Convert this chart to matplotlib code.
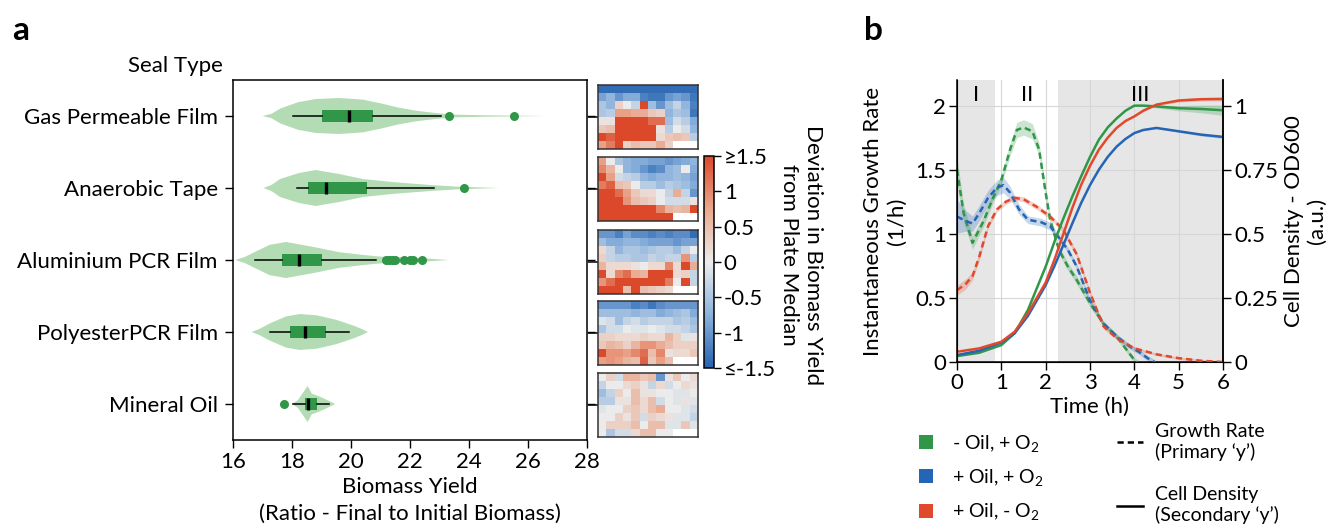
import numpy as np
import matplotlib
matplotlib.use('Agg')
import matplotlib.pyplot as plt
from matplotlib.colors import LinearSegmentedColormap
from matplotlib.patches import Patch
from matplotlib.lines import Line2D

plt.rcParams['font.family'] = ['Lato', 'DejaVu Sans']
plt.rcParams['mathtext.fontset'] = 'custom'
plt.rcParams['mathtext.rm'] = 'Lato'
plt.rcParams['font.size'] = 16

# ---------------- panel a data ----------------
seal_types = ['Gas Permeable Film', 'Anaerobic Tape', 'Aluminium PCR Film',
              'PolyesterPCR Film', 'Mineral Oil']

q1 = [19.03, 18.55, 17.67, 17.93, 18.44]
med = [19.94, 19.15, 18.24, 18.44, 18.53]
q3 = [20.74, 20.53, 19.00, 19.15, 18.84]
whislo = [18.04, 18.16, 16.75, 17.25, 18.04]
whishi = [23.04, 22.82, 20.84, 19.93, 19.25]
fliers = [[23.33, 25.54],
          [23.84],
          [21.2, 21.3, 21.4, 21.5, 21.8, 22.0, 22.1, 22.4],
          [],
          [17.74]]

# violin outlines (yield, relative density)
vio_x = [[17.0, 17.3, 17.6, 18.2, 18.8, 19.6, 20.4, 21.0, 21.6, 22.2, 22.9, 23.5, 24.5, 25.5, 26.6],
         [17.03, 17.3, 17.6, 18.2, 18.8, 19.6, 20.4, 21.5, 22.7, 23.5, 24.2, 25.0],
         [16.07, 16.4, 16.75, 17.25, 17.8, 18.7, 19.6, 20.4, 21.0, 22.1, 22.7, 23.3],
         [16.63, 16.9, 17.25, 17.8, 18.27, 18.85, 19.5, 20.1, 20.4, 20.57],
         [18.0, 18.2, 18.4, 18.53, 18.67, 18.95, 19.2, 19.46]]
vio_d = [[0, 2, 7, 13, 16, 17, 15.5, 12, 8, 5, 2.7, 1.3, 0.7, 0.4, 0],
         [0, 3, 9, 14.7, 18, 14, 9, 5.7, 3, 1.5, 0.8, 0],
         [0, 3, 8, 15, 17.7, 13, 7.7, 5, 3.3, 2.3, 1.2, 0],
         [0, 3, 8.3, 15, 17.3, 16, 11.7, 6, 2.5, 0],
         [0, 3.7, 12, 17.3, 10, 7, 3.7, 0]]

# plate maps: deviation from plate median (8 rows x 12 columns)
nan = np.nan
plate_gas = [
    [-1.4, -1.4, -1.4, -1.4, -1.4, -1.4, -1.4, -1.4, -1.4, -1.4, -1.4, -1.4],
    [-0.9, -0.7, -1.0, -0.8, -0.8, -1.2, -1.3, -1.3, -1.0, -0.9, -1.0, -1.3],
    [-0.5, -0.7, 0.3, 0.0, -0.3, 1.5, -0.6, -1.0, -0.6, -0.3, -0.7, -1.2],
    [-0.5, -0.4, 0.8, 0.8, 0.7, 0.7, 0.4, 0.3, -0.7, -0.5, -0.6, -1.3],
    [0.1, 0.1, 1.5, 1.5, 1.5, 1.5, 1.2, 1.2, -0.6, -0.2, -0.4, -0.8],
    [0.4, 0.5, 1.5, 1.5, 1.5, 1.5, 1.5, 0.1, -0.4, 0.0, -0.2, -0.7],
    [1.5, 1.3, 1.5, 1.5, 1.5, 1.5, 1.5, 0.2, 0.4, 0.5, 0.4, -0.4],
    [0.8, 1.1, 1.5, 0.3, 0.5, 0.4, 0.4, 0.7, 0.3, nan, nan, nan]]
plate_tape = [
    [0.8, 0.0, -0.5, -0.7, -0.8, -0.8, -0.9, -0.9, -1.0, -0.9, -0.8, -0.7],
    [1.0, 0.6, 0.0, -0.7, -0.8, -1.0, -1.2, -1.1, -0.7, -0.6, 0.0, -0.8],
    [1.5, 0.8, -0.2, -0.3, -0.4, -0.7, -0.8, -0.7, -0.7, -0.6, -0.7, -0.9],
    [1.1, 1.3, 0.5, 0.4, 0.0, -0.4, -0.4, -0.6, -0.4, -0.5, -0.6, -0.8],
    [1.5, 1.5, 1.2, 0.8, 0.4, 0.2, 0.2, 0.0, -0.3, 0.7, -0.3, -1.0],
    [1.5, 1.5, 1.5, 0.9, 0.5, 0.4, 0.3, 0.0, -0.2, -0.2, -0.2, 0.1],
    [1.5, 1.5, 1.5, 1.5, 1.5, 1.5, 1.5, 1.0, 0.6, 0.5, 0.6, 1.5],
    [1.5, 1.5, 1.5, 1.5, 1.5, 1.5, 1.5, 1.5, 1.5, nan, nan, nan]]
plate_alu = [
    [-1.0, -1.0, -1.2, -0.9, -1.1, -1.1, -1.2, -1.1, -1.2, -1.1, -1.1, -1.4],
    [-0.6, -0.8, -0.8, -0.7, -0.7, -0.8, -0.9, -0.9, -0.9, -1.0, -0.9, -0.9],
    [0.2, -0.3, -0.7, -0.5, -0.5, -0.6, -0.5, -0.4, -0.4, -0.6, -0.3, 0.0],
    [0.3, -0.3, -0.4, -0.4, -0.5, -0.5, -0.3, -0.4, -0.3, -0.3, 0.9, -0.4],
    [0.6, 0.2, 0.2, 0.2, 0.1, 0.0, 0.2, 0.2, 1.0, 0.2, 1.5, 0.7],
    [1.5, 0.2, 1.0, 1.2, 0.7, 0.6, 1.5, 1.5, 1.5, 0.2, 0.3, -0.3],
    [0.9, 1.2, 1.5, 1.5, 1.5, 1.5, 1.5, 1.5, 1.1, 0.0, 1.5, -0.3],
    [1.5, 1.5, 1.5, 0.5, 1.5, 0.5, 0.4, 0.3, 0.2, nan, nan, nan]]
plate_poly = [
    [-1.0, -1.0, -1.0, -1.0, -1.2, -1.1, -1.3, -1.1, -1.0, -1.0, -1.0, -1.0],
    [-0.6, -0.6, -0.6, -0.6, -0.7, -0.6, -0.6, -0.8, -0.7, -0.6, -0.5, -0.8],
    [-0.1, -0.2, -0.6, -0.3, -0.2, -0.4, -0.3, -0.3, -0.3, -0.5, -0.4, -0.6],
    [-0.5, -0.2, -0.2, 0.0, -0.1, -0.1, 0.0, -0.1, -0.2, -0.2, -0.3, -0.5],
    [0.3, 0.3, 0.2, 0.2, 0.2, 0.3, 0.2, 0.2, 0.6, 0.3, -0.1, 0.1],
    [0.4, 0.6, 0.5, 0.3, 0.6, 0.9, 0.9, 0.7, 0.5, 0.3, 0.3, 0.3],
    [1.5, 0.9, 0.9, 0.8, 1.0, 1.2, 0.5, 1.0, 0.1, 0.2, 0.2, 0.4],
    [0.8, 0.9, 0.8, 0.6, 0.5, 1.3, 0.4, 0.8, 0.5, nan, nan, nan]]
plate_oil = [
    [0.0, 0.3, -0.2, 0.6, 0.6, 0.4, 0.5, -1.0, 0.1, 0.4, 0.0, 0.2],
    [-0.3, 0.0, 0.0, 0.2, 0.3, 0.1, -0.3, 0.2, -0.2, 0.0, 0.2, 0.1],
    [-0.6, -0.3, 0.3, 0.0, 0.5, 0.1, 0.1, 0.0, 0.0, -0.1, -0.1, 0.0],
    [-0.4, -0.4, 0.1, 0.1, 0.5, 0.2, 0.5, -0.2, 0.0, -0.1, 0.1, -0.1],
    [-0.1, 0.0, 0.0, 0.3, 0.4, 0.2, 0.5, 0.7, 0.0, 0.0, -0.1, -0.2],
    [0.0, 0.0, 0.3, 0.1, 0.4, -0.2, 0.3, 0.2, 0.1, -0.1, -0.1, -0.3],
    [0.0, 0.3, 0.3, 0.3, 0.5, 0.0, 0.5, 0.5, -0.1, -0.1, 0.4, -0.1],
    [0.0, -0.5, -0.2, -0.2, 0.2, 0.5, 0.5, 0.0, 0.0, nan, nan, nan]]
plates = [plate_gas, plate_tape, plate_alu, plate_poly, plate_oil]

# ---------------- panel b data ----------------
conditions = ['- Oil, + O$\\mathregular{_2}$', '+ Oil, + O$\\mathregular{_2}$', '+ Oil, - O$\\mathregular{_2}$']
cond_colors = ['#2f9747', '#2565b5', '#e04a2c']

t_gr_green = [0, 0.15, 0.35, 0.6, 0.8, 1.0, 1.2, 1.35, 1.5, 1.7, 1.85, 2.0, 2.1, 2.3, 2.5, 2.7, 3.0, 3.3, 3.6, 3.8, 4.0, 4.2, 4.5]
gr_green = [1.5, 1.16, 0.93, 1.1, 1.27, 1.42, 1.66, 1.81, 1.83, 1.80, 1.66, 1.32, 1.11, 0.875, 0.745, 0.64, 0.46, 0.30, 0.20, 0.107, 0.016, -0.04, -0.1]
gr_green_err = [0.1, 0.07, 0.05, 0.04, 0.04, 0.04, 0.05, 0.06, 0.06, 0.06, 0.05, 0.04, 0.04, 0.03, 0.03, 0.03, 0.03, 0.02, 0.02, 0.02, 0.02, 0.02, 0.02]

t_gr_blue = [0, 0.2, 0.35, 0.5, 0.7, 0.9, 1.05, 1.2, 1.4, 1.6, 1.9, 2.1, 2.3, 2.5, 2.7, 3.0, 3.3, 3.6, 3.9, 4.1, 4.3, 4.45, 4.7]
gr_blue = [1.135, 1.10, 1.08, 1.16, 1.28, 1.36, 1.38, 1.32, 1.19, 1.11, 1.09, 1.06, 0.97, 0.875, 0.745, 0.48, 0.30, 0.20, 0.12, 0.08, 0.03, 0.0, -0.05]
gr_blue_err = [0.13, 0.08, 0.06, 0.06, 0.06, 0.06, 0.06, 0.05, 0.04, 0.03, 0.03, 0.03, 0.02, 0.02, 0.02, 0.02, 0.02, 0.02, 0.02, 0.02, 0.02, 0.02, 0.02]

t_gr_red = [0, 0.2, 0.35, 0.5, 0.7, 0.9, 1.1, 1.3, 1.5, 1.8, 2.1, 2.4, 2.7, 3.0, 3.3, 3.6, 4.0, 4.5, 5.0, 5.5, 6.0]
gr_red = [0.56, 0.61, 0.67, 0.82, 1.06, 1.19, 1.25, 1.28, 1.27, 1.21, 1.135, 1.03, 0.84, 0.54, 0.28, 0.185, 0.107, 0.06, 0.03, 0.01, 0.0]
gr_red_err = [0.04, 0.04, 0.03, 0.03, 0.02, 0.02, 0.02, 0.02, 0.02, 0.02, 0.02, 0.02, 0.02, 0.02, 0.02, 0.01, 0.01, 0.01, 0.01, 0.01, 0.01]

t_od = [0, 0.5, 1.0, 1.3, 1.6, 2.0, 2.2, 2.4, 2.6, 2.8, 3.0, 3.2, 3.4, 3.6, 3.8, 4.0, 4.2, 4.5, 5.0, 5.5, 6.0]
od_green = [0.023, 0.036, 0.066, 0.112, 0.203, 0.372, 0.47, 0.56, 0.645, 0.724, 0.80, 0.867, 0.915, 0.95, 0.98, 1.0, 1.0, 0.997, 0.99, 0.987, 0.982]
od_blue = [0.027, 0.044, 0.076, 0.112, 0.18, 0.30, 0.375, 0.457, 0.54, 0.62, 0.69, 0.75, 0.80, 0.84, 0.87, 0.893, 0.905, 0.913, 0.90, 0.887, 0.878]
od_red = [0.040, 0.053, 0.079, 0.118, 0.19, 0.31, 0.40, 0.50, 0.60, 0.691, 0.765, 0.828, 0.875, 0.913, 0.94, 0.958, 0.98, 1.004, 1.02, 1.025, 1.026]
od_green_err = [0, 0, 0, 0, 0, 0, 0, 0, 0, 0, 0, 0, 0, 0, 0, 0.002, 0.004, 0.006, 0.01, 0.015, 0.02]
od_blue_err = [0, 0, 0, 0, 0, 0, 0, 0, 0, 0, 0, 0, 0, 0, 0, 0.002, 0.002, 0.003, 0.004, 0.005, 0.006]
od_red_err = [0, 0, 0, 0, 0, 0, 0, 0, 0, 0, 0, 0, 0, 0, 0, 0.002, 0.003, 0.004, 0.006, 0.007, 0.008]

phases = ['I', 'II', 'III']
phase_pos = [0.44, 1.59, 4.13]
shaded = [(0, 0.86), (2.28, 6)]

W, H = 1327, 524
fig = plt.figure(figsize=(W / 100, H / 100), dpi=100)

# ---------------- panel a : violins ----------------
axv = fig.add_axes([233 / W, 1 - 440 / H, 354 / W, 360 / H])
green_light = '#b4dcb4'
green_dark = '#2f9747'
pos = list(range(len(seal_types)))

vpstats = []
for xs, ds in zip(vio_x, vio_d):
    vpstats.append({'coords': np.array(xs), 'vals': np.array(ds, float),
                    'mean': np.mean(xs), 'median': np.median(xs),
                    'min': min(xs), 'max': max(xs)})
parts = axv.violin(vpstats, positions=pos, orientation='horizontal', widths=0.5,
                   showmeans=False, showextrema=False, showmedians=False)
for b in parts['bodies']:
    b.set_facecolor(green_light)
    b.set_edgecolor('none')
    b.set_alpha(1)

bstats = []
for i in range(len(seal_types)):
    bstats.append({'med': med[i], 'q1': q1[i], 'q3': q3[i], 'whislo': whislo[i],
                   'whishi': whishi[i], 'fliers': fliers[i]})
axv.bxp(bstats, positions=pos, orientation='horizontal', widths=0.18, patch_artist=True,
        showcaps=False, showfliers=True,
        boxprops=dict(facecolor=green_dark, edgecolor='none'),
        medianprops=dict(color='black', linewidth=2.4),
        whiskerprops=dict(color='black', linewidth=1.1),
        flierprops=dict(marker='o', markerfacecolor=green_dark, markeredgecolor='none', markersize=6.5))

axv.set_xlim(16, 28)
axv.set_ylim(4.5, -0.5)
axv.set_xticks([16, 18, 20, 22, 24, 26, 28])
axv.set_yticks(pos)
axv.set_yticklabels(seal_types)
axv.tick_params(axis='y', right=True, length=6, width=1, pad=5)
axv.tick_params(axis='x', length=6, width=1, pad=3)
for s in axv.spines.values():
    s.set_linewidth(1.1)
axv.set_xlabel('Biomass Yield\n(Ratio - Final to Initial Biomass)', linespacing=1.45, labelpad=3)

fig.text(175 / W, 1 - 66 / H, 'Seal Type', ha='center', va='center')
fig.text(12 / W, 1 - 30 / H, 'a', ha='left', va='center', fontsize=24, fontweight='bold')
fig.text(864 / W, 1 - 30 / H, 'b', ha='left', va='center', fontsize=24, fontweight='bold')

# ---------------- plate maps ----------------
cmap = LinearSegmentedColormap.from_list('dev', ['#2462b0', '#8cb2dc', '#ececec', '#eaa88e', '#dc482a'])
cmap.set_bad('white')
centers = [117, 189, 262, 333, 405]
for plate, c in zip(plates, centers):
    axh = fig.add_axes([598 / W, 1 - (c + 32) / H, 100 / W, 64 / H])
    im = axh.imshow(np.clip(np.array(plate, float), -1.5, 1.5), cmap=cmap, vmin=-1.5, vmax=1.5,
                    aspect='auto', interpolation='nearest')
    axh.set_xticks([])
    axh.set_yticks([3.5])
    axh.set_yticklabels([''])
    axh.tick_params(axis='y', length=7, width=1.1)
    for s in axh.spines.values():
        s.set_linewidth(1.1)
        s.set_color('#333333')

cax = fig.add_axes([704 / W, 1 - 368 / H, 10 / W, 212 / H])
cb = fig.colorbar(im, cax=cax, ticks=[-1.5, -1, -0.5, 0, 0.5, 1, 1.5])
cb.ax.set_yticklabels(['\u2264-1.5', '-1', '-0.5', '0', '0.5', '1', '\u22651.5'])
cb.ax.tick_params(length=5, width=1, labelsize=16, pad=2)
cb.outline.set_linewidth(1.1)
fig.text(801 / W, 1 - 255 / H, 'Deviation in Biomass Yield\nfrom Plate Median', rotation=270,
         ha='center', va='center', multialignment='center', linespacing=1.2)

# ---------------- panel b ----------------
ax = fig.add_axes([957 / W, 1 - 362 / H, 266 / W, 282 / H])
for a0, a1 in shaded:
    ax.axvspan(a0, a1, color='#e6e6e6', zorder=0.1, lw=0)
ax.grid(True, color='#d6d6d6', linewidth=0.8, zorder=0.5)
ax.set_axisbelow(True)

gr_sets = [(t_gr_green, gr_green, gr_green_err), (t_gr_blue, gr_blue, gr_blue_err),
           (t_gr_red, gr_red, gr_red_err)]
for (tt, yy, ee), col in zip(gr_sets, cond_colors):
    tt = np.array(tt); yy = np.array(yy); ee = np.array(ee)
    ax.fill_between(tt, yy - ee, yy + ee, color=col, alpha=0.25, lw=0, zorder=2)
    ax.plot(tt, yy, color=col, lw=1.8, ls=(0, (2.5, 1.6)), zorder=3)

for i, ph in enumerate(phases):
    ax.text(phase_pos[i], 2.08, ph, ha='center', va='center')

ax.set_xlim(0, 6)
ax.set_ylim(0, 2.2)
ax.set_xticks(range(7))
ax.set_yticks([0, 0.5, 1, 1.5, 2])
ax.set_yticklabels(['0', '0.5', '1', '1.5', '2'])
ax.spines['top'].set_visible(False)
for s in ['left', 'bottom', 'right']:
    ax.spines[s].set_linewidth(1.1)
ax.tick_params(length=6, width=1, pad=2)
ax.set_xlabel('Time (h)', labelpad=3)
ax.set_ylabel('Instantaneous Growth Rate\n(1/h)', linespacing=1.2, labelpad=6)

ax2 = ax.twinx()
od_sets = [(od_green, od_green_err), (od_blue, od_blue_err), (od_red, od_red_err)]
for (yy, ee), col in zip(od_sets, cond_colors):
    yy = np.array(yy); ee = np.array(ee)
    ax2.fill_between(t_od, yy - ee, yy + ee, color=col, alpha=0.25, lw=0)
    ax2.plot(t_od, yy, color=col, lw=1.8)
ax2.set_ylim(0, 1.1)
ax2.set_yticks([0, 0.25, 0.5, 0.75, 1])
ax2.set_yticklabels(['0', '0.25', '0.5', '0.75', '1'])
ax2.spines['top'].set_visible(False)
ax2.spines['right'].set_linewidth(1.1)
ax2.tick_params(length=6, width=1, pad=2)
ax2.set_ylabel('Cell Density - OD600\n(a.u.)', linespacing=1.2, labelpad=4)

# legends
h1 = [Patch(facecolor=c, edgecolor='none') for c in cond_colors]
fig.legend(h1, conditions, loc='upper left', bbox_to_anchor=(919 / W, 1 - 433 / H),
           frameon=False, fontsize=14, handlelength=0.72, handleheight=0.72,
           labelspacing=0.68, handletextpad=1.0, borderpad=0, borderaxespad=0)
h2 = [Line2D([], [], color='black', ls=(0, (2.5, 1.6)), lw=1.8),
      Line2D([], [], color='black', lw=1.8)]
fig.legend(h2, ['Growth Rate\n(Primary \u2018y\u2019)', 'Cell Density\n(Secondary \u2018y\u2019)'],
           loc='upper left', bbox_to_anchor=(1117 / W, 1 - 423 / H), frameon=False, fontsize=14,
           handlelength=1.35, labelspacing=1.3, handletextpad=0.6, borderpad=0, borderaxespad=0)

fig.savefig('out.png', dpi=100)
